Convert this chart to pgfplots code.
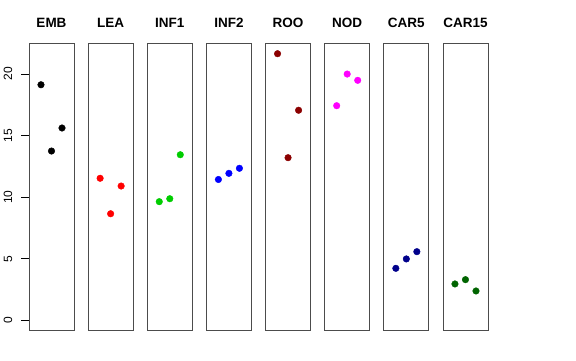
\documentclass[border=0pt]{standalone}
\usepackage{pgfplots}
\pgfplotsset{compat=1.18}
\usepackage{fontspec}
\setmainfont{Liberation Sans}
\definecolor{rgreen}{RGB}{0,205,0}
\definecolor{rdarkred}{RGB}{139,0,0}
\definecolor{rdarkblue}{RGB}{0,0,139}
\definecolor{rdarkgreen}{RGB}{0,100,0}
\definecolor{rmagenta}{RGB}{255,0,255}
\definecolor{rred}{RGB}{255,0,0}
\definecolor{rblue}{RGB}{0,0,255}
\pgfplotsset{
  panel/.style={
    scale only axis, width=45pt, height=287.7pt,
    anchor=south west,
    xmin=-0.14, xmax=4.14, ymin=-0.845, ymax=22.51,
    xtick=\empty, ytick=\empty,
    axis line style={black!70, line width=0.8pt},
    title style={at={(0.5,1)}, anchor=base, yshift=9.3pt, font=\bfseries\fontsize{13.5}{16}\selectfont},
    clip=false,
  },
  pts/.style={only marks, mark=*, mark size=3.3pt, mark options={draw=#1, fill=#1}, color=#1},
}
\begin{document}
\begin{tikzpicture}
\path[use as bounding box] (0pt,0pt) rectangle (576pt,360pt);
\begin{axis}[panel, at={(29pt,29.3pt)}, title={EMB},
  ytick={0,5,10,15,20}, ytick pos=left, tick align=outside, major tick length=7.5pt,
  ytick style={black, line width=0.8pt},
  yticklabel style={xshift=-9.3pt, rotate=90, anchor=base, font=\fontsize{12}{14}\selectfont},
  /pgf/number format/assume math mode=true]
\addplot[pts=black] coordinates {(1,19.12) (2,13.74) (3,15.61)};
\end{axis}
\begin{axis}[panel, at={(88.14pt,29.3pt)}, title={LEA}]
\addplot[pts=rred] coordinates {(1,11.53) (2,8.65) (3,10.90)};
\end{axis}
\begin{axis}[panel, at={(147.28pt,29.3pt)}, title={INF1}]
\addplot[pts=rgreen] coordinates {(1,9.63) (2,9.87) (3,13.44)};
\end{axis}
\begin{axis}[panel, at={(206.42pt,29.3pt)}, title={INF2}]
\addplot[pts=rblue] coordinates {(1,11.43) (2,11.93) (3,12.34)};
\end{axis}
\begin{axis}[panel, at={(265.56pt,29.3pt)}, title={ROO}]
\addplot[pts=rdarkred] coordinates {(1,21.64) (2,13.20) (3,17.05)};
\end{axis}
\begin{axis}[panel, at={(324.7pt,29.3pt)}, title={NOD}]
\addplot[pts=rmagenta] coordinates {(1,17.42) (2,19.99) (3,19.48)};
\end{axis}
\begin{axis}[panel, at={(383.84pt,29.3pt)}, title={CAR5}]
\addplot[pts=rdarkblue] coordinates {(1,4.22) (2,4.98) (3,5.57)};
\end{axis}
\begin{axis}[panel, at={(442.98pt,29.3pt)}, title={CAR15}]
\addplot[pts=rdarkgreen] coordinates {(1,2.95) (2,3.30) (3,2.38)};
\end{axis}
\end{tikzpicture}
\end{document}
